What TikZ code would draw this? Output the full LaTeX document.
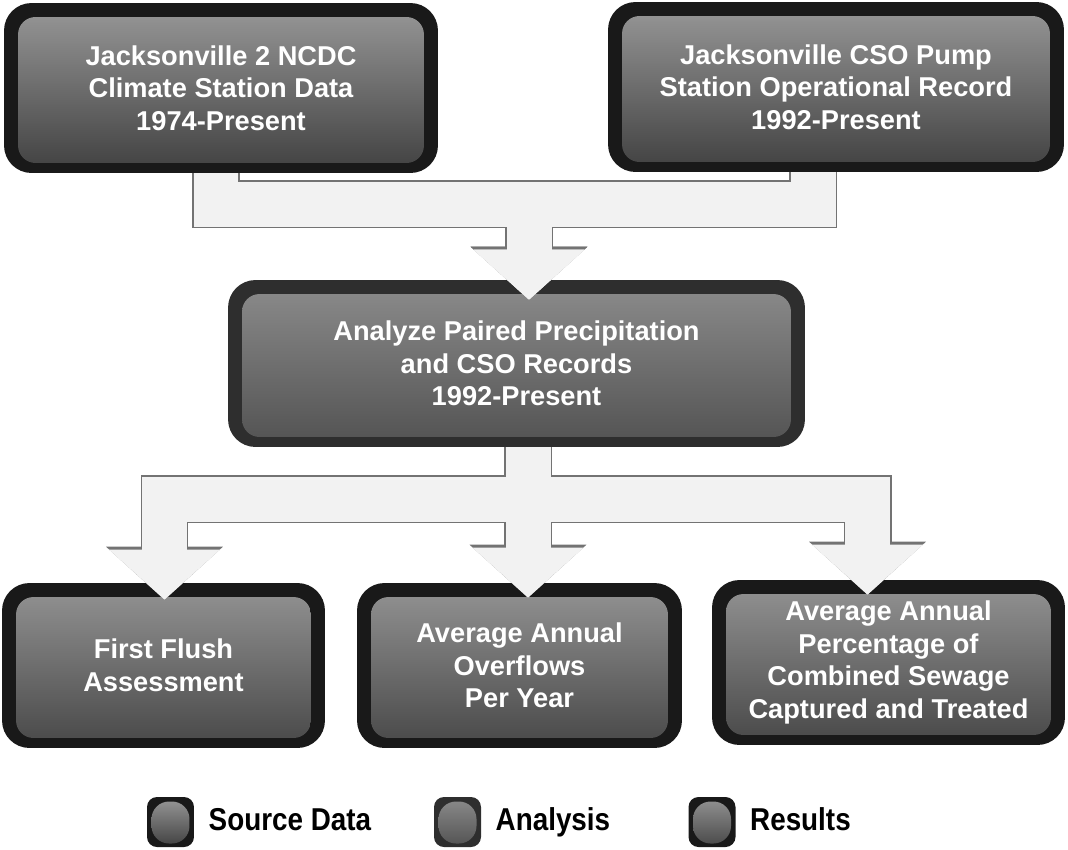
\documentclass[tikz,border=0pt]{standalone}
\usepackage{fontspec}
\setmainfont{Liberation Sans}
\newfontfamily\legfont[FakeStretch=0.88]{Liberation Sans}
\usetikzlibrary{arrows.meta,positioning}

\begin{document}
\begin{tikzpicture}[x=0.02cm, y=-0.02cm, line join=miter,
		blk/.style={rounded corners=0.55cm, align=center, text=white, inner sep=0pt,
			font=\bfseries\fontsize{15.5}{18.5}\selectfont},
		panel/.style n args={3}{fill=#1, path picture={\shade[top color=#2, bottom color=#3, rounded corners=0.35cm]
				([shift={(\ins,-\ins)}]path picture bounding box.north west) rectangle ([shift={(-\ins,\insb)}]path picture bounding box.south east);}},
		srcbox/.style={blk, panel={black!90}{black!40}{black!75}},
		anabox/.style={blk, panel={black!82}{black!45}{black!68}},
		resbox/.style={blk, panel={black!90}{black!42}{black!72}},
		legtext/.style={inner sep=0pt, text height=0.72em, text depth=0.21em, font=\legfont\bfseries\fontsize{18}{20}\selectfont}]
	\def\ins{0.28cm}\def\insb{0.2cm}
	\useasboundingbox (0,0) rectangle (1068,849);
	% boxes
	\node[srcbox, minimum width=8.68cm, minimum height=3.4cm] (src1) at (221,88) {Jacksonville 2 NCDC\\Climate Station Data\\1974-Present};
	\node[srcbox, minimum width=9.12cm, minimum height=3.4cm] (src2) at (836,87) {Jacksonville CSO Pump\\Station Operational Record\\1992-Present};
	\node[anabox, minimum width=11.54cm, minimum height=3.34cm] (ana) at (516.5,363.5) {Analyze Paired Precipitation\\and CSO Records\\1992-Present};
	\node[resbox, minimum width=6.46cm, minimum height=3.3cm] (res1) at (163.5,665.5) {First Flush\\Assessment};
	\node[resbox, minimum width=6.5cm, minimum height=3.3cm] (res2) at (519.5,665.5) {Average Annual\\Overflows\\Per Year};
	\node[resbox, minimum width=7.06cm, minimum height=3.3cm] (res3) at (888.5,662.5) {Average Annual\\Percentage of\\Combined Sewage\\Captured and Treated};
	% block arrows
	\coordinate (jt) at (529,204);
	\coordinate (jb) at (528,499);
	\foreach \w/\c/\tw/\tl in {0.96cm/black!55/2.34cm/1.06cm, 0.9cm/black!5/2.22cm/1cm}{
		\draw[line width=\w, color=\c, -{Triangle[width=\tw, length=\tl, line width=0pt]}] ([xshift=-0.1cm]src1.south) |- (jt) -- ([yshift=-0.4cm]jt |- ana.north);
		\draw[line width=\w, color=\c, -{Triangle[width=\tw, length=\tl, line width=0pt]}] ([xshift=-0.46cm]src2.south) |- (jt) -- ([yshift=-0.4cm]jt |- ana.north);
		\draw[line width=\w, color=\c, -{Triangle[width=\tw, length=\tl, line width=0pt]}] (ana.south -| jb) -- (jb) -| ([xshift=0.02cm,yshift=-0.34cm]res1.north);
		\draw[line width=\w, color=\c, -{Triangle[width=\tw, length=\tl, line width=0pt]}] (ana.south -| jb) -- ([yshift=-0.3cm]jb |- res2.north);
		\draw[line width=\w, color=\c, -{Triangle[width=\tw, length=\tl, line width=0pt]}] (jb) -| ([xshift=-0.42cm,yshift=-0.3cm]res3.north);
	}
	% legend
	\foreach \x/\s/\t [count=\i] in {170.5/srcbox/Source Data, 457.5/anabox/Analysis, 712/resbox/Results}{
		\def\ins{0.09cm}\def\insb{0.07cm}
		\node[\s, rounded corners=0.2cm, minimum width=0.94cm, minimum height=1cm] (leg\i) at (\x,822) {};
		\node[legtext, right=0.28cm of leg\i, yshift=-0.08cm] (lt\i) {\t};}
\end{tikzpicture}
\end{document}
